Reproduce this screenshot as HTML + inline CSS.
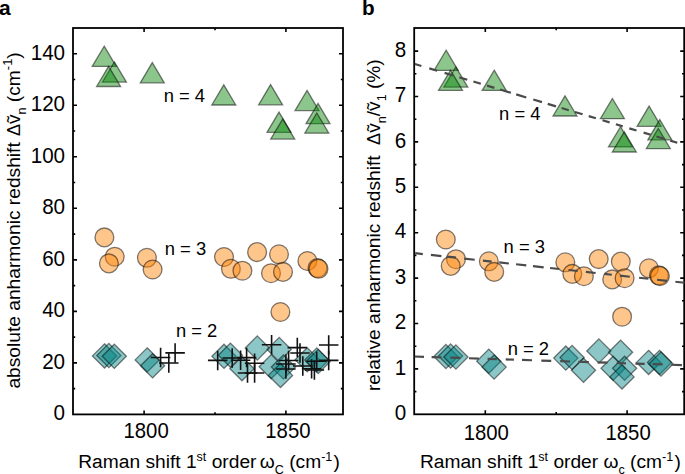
<!DOCTYPE html>
<html><head><meta charset="utf-8"><style>
html,body{margin:0;padding:0;background:#fff;width:685px;height:474px;overflow:hidden}
svg{display:block}
</style></head><body>
<svg width="685" height="474" viewBox="0 0 685 474"><rect width="685" height="474" fill="#fff"/><path d="M144.10 414.40V410.40M144.10 28.00V32.00M285.90 414.40V410.40M285.90 28.00V32.00M215.00 414.40V412.20M215.00 28.00V30.20M73.00 362.88H77.00M343.00 362.88H339.00M73.00 311.36H77.00M343.00 311.36H339.00M73.00 259.84H77.00M343.00 259.84H339.00M73.00 208.32H77.00M343.00 208.32H339.00M73.00 156.80H77.00M343.00 156.80H339.00M73.00 105.28H77.00M343.00 105.28H339.00M73.00 53.76H77.00M343.00 53.76H339.00M73.00 388.64H75.20M343.00 388.64H340.80M73.00 337.12H75.20M343.00 337.12H340.80M73.00 285.60H75.20M343.00 285.60H340.80M73.00 234.08H75.20M343.00 234.08H340.80M73.00 182.56H75.20M343.00 182.56H340.80M73.00 131.04H75.20M343.00 131.04H340.80M73.00 79.52H75.20M343.00 79.52H340.80" stroke="#000" stroke-width="1.6" fill="none"/><rect x="73.00" y="28.00" width="270.00" height="386.40" fill="none" stroke="#000" stroke-width="1.8"/><path d="M104.50 343.80L116.60 355.90L104.50 368.00L92.40 355.90Z" fill="rgba(0,128,128,0.45)" stroke="rgba(0,0,0,0.5)" stroke-width="1.3"/><path d="M108.90 343.40L121.00 355.50L108.90 367.60L96.80 355.50Z" fill="rgba(0,128,128,0.45)" stroke="rgba(0,0,0,0.5)" stroke-width="1.3"/><path d="M114.30 344.20L126.40 356.30L114.30 368.40L102.20 356.30Z" fill="rgba(0,128,128,0.45)" stroke="rgba(0,0,0,0.5)" stroke-width="1.3"/><path d="M147.20 347.80L159.30 359.90L147.20 372.00L135.10 359.90Z" fill="rgba(0,128,128,0.45)" stroke="rgba(0,0,0,0.5)" stroke-width="1.3"/><path d="M152.60 353.70L164.70 365.80L152.60 377.90L140.50 365.80Z" fill="rgba(0,128,128,0.45)" stroke="rgba(0,0,0,0.5)" stroke-width="1.3"/><path d="M224.00 344.20L236.10 356.30L224.00 368.40L211.90 356.30Z" fill="rgba(0,128,128,0.45)" stroke="rgba(0,0,0,0.5)" stroke-width="1.3"/><path d="M230.40 343.10L242.50 355.20L230.40 367.30L218.30 355.20Z" fill="rgba(0,128,128,0.45)" stroke="rgba(0,0,0,0.5)" stroke-width="1.3"/><path d="M242.00 356.60L254.10 368.70L242.00 380.80L229.90 368.70Z" fill="rgba(0,128,128,0.45)" stroke="rgba(0,0,0,0.5)" stroke-width="1.3"/><path d="M257.30 335.90L269.40 348.00L257.30 360.10L245.20 348.00Z" fill="rgba(0,128,128,0.45)" stroke="rgba(0,0,0,0.5)" stroke-width="1.3"/><path d="M279.20 337.40L291.30 349.50L279.20 361.60L267.10 349.50Z" fill="rgba(0,128,128,0.45)" stroke="rgba(0,0,0,0.5)" stroke-width="1.3"/><path d="M271.20 354.60L283.30 366.70L271.20 378.80L259.10 366.70Z" fill="rgba(0,128,128,0.45)" stroke="rgba(0,0,0,0.5)" stroke-width="1.3"/><path d="M283.40 354.90L295.50 367.00L283.40 379.10L271.30 367.00Z" fill="rgba(0,128,128,0.45)" stroke="rgba(0,0,0,0.5)" stroke-width="1.3"/><path d="M280.50 363.30L292.60 375.40L280.50 387.50L268.40 375.40Z" fill="rgba(0,128,128,0.45)" stroke="rgba(0,0,0,0.5)" stroke-width="1.3"/><path d="M307.20 347.70L319.30 359.80L307.20 371.90L295.10 359.80Z" fill="rgba(0,128,128,0.45)" stroke="rgba(0,0,0,0.5)" stroke-width="1.3"/><path d="M316.80 347.90L328.90 360.00L316.80 372.10L304.70 360.00Z" fill="rgba(0,128,128,0.45)" stroke="rgba(0,0,0,0.5)" stroke-width="1.3"/><path d="M318.20 349.40L330.30 361.50L318.20 373.60L306.10 361.50Z" fill="rgba(0,128,128,0.45)" stroke="rgba(0,0,0,0.5)" stroke-width="1.3"/><circle cx="104.40" cy="237.40" r="9.4" fill="rgba(255,128,0,0.45)" stroke="rgba(0,0,0,0.5)" stroke-width="1.3"/><circle cx="114.70" cy="256.70" r="9.4" fill="rgba(255,128,0,0.45)" stroke="rgba(0,0,0,0.5)" stroke-width="1.3"/><circle cx="108.90" cy="263.40" r="9.4" fill="rgba(255,128,0,0.45)" stroke="rgba(0,0,0,0.5)" stroke-width="1.3"/><circle cx="146.90" cy="257.80" r="9.4" fill="rgba(255,128,0,0.45)" stroke="rgba(0,0,0,0.5)" stroke-width="1.3"/><circle cx="152.60" cy="269.50" r="9.4" fill="rgba(255,128,0,0.45)" stroke="rgba(0,0,0,0.5)" stroke-width="1.3"/><circle cx="224.00" cy="257.00" r="9.4" fill="rgba(255,128,0,0.45)" stroke="rgba(0,0,0,0.5)" stroke-width="1.3"/><circle cx="230.90" cy="268.80" r="9.4" fill="rgba(255,128,0,0.45)" stroke="rgba(0,0,0,0.5)" stroke-width="1.3"/><circle cx="242.40" cy="270.70" r="9.4" fill="rgba(255,128,0,0.45)" stroke="rgba(0,0,0,0.5)" stroke-width="1.3"/><circle cx="257.10" cy="252.10" r="9.4" fill="rgba(255,128,0,0.45)" stroke="rgba(0,0,0,0.5)" stroke-width="1.3"/><circle cx="279.00" cy="254.30" r="9.4" fill="rgba(255,128,0,0.45)" stroke="rgba(0,0,0,0.5)" stroke-width="1.3"/><circle cx="271.00" cy="273.20" r="9.4" fill="rgba(255,128,0,0.45)" stroke="rgba(0,0,0,0.5)" stroke-width="1.3"/><circle cx="283.00" cy="271.90" r="9.4" fill="rgba(255,128,0,0.45)" stroke="rgba(0,0,0,0.5)" stroke-width="1.3"/><circle cx="307.40" cy="261.00" r="9.4" fill="rgba(255,128,0,0.45)" stroke="rgba(0,0,0,0.5)" stroke-width="1.3"/><circle cx="317.50" cy="268.00" r="9.4" fill="rgba(255,128,0,0.45)" stroke="rgba(0,0,0,0.5)" stroke-width="1.3"/><circle cx="318.50" cy="268.80" r="9.4" fill="rgba(255,128,0,0.45)" stroke="rgba(0,0,0,0.5)" stroke-width="1.3"/><circle cx="280.40" cy="312.00" r="9.4" fill="rgba(255,128,0,0.45)" stroke="rgba(0,0,0,0.5)" stroke-width="1.3"/><path d="M104.20 46.20L116.20 66.40L92.20 66.40Z" fill="rgba(0,128,0,0.45)" stroke="rgba(0,0,0,0.5)" stroke-width="1.3"/><path d="M114.40 61.90L126.40 82.10L102.40 82.10Z" fill="rgba(0,128,0,0.45)" stroke="rgba(0,0,0,0.5)" stroke-width="1.3"/><path d="M108.60 66.30L120.60 86.50L96.60 86.50Z" fill="rgba(0,128,0,0.45)" stroke="rgba(0,0,0,0.5)" stroke-width="1.3"/><path d="M152.30 62.60L164.30 82.80L140.30 82.80Z" fill="rgba(0,128,0,0.45)" stroke="rgba(0,0,0,0.5)" stroke-width="1.3"/><path d="M223.80 84.80L235.80 105.00L211.80 105.00Z" fill="rgba(0,128,0,0.45)" stroke="rgba(0,0,0,0.5)" stroke-width="1.3"/><path d="M270.60 84.60L282.60 104.80L258.60 104.80Z" fill="rgba(0,128,0,0.45)" stroke="rgba(0,0,0,0.5)" stroke-width="1.3"/><path d="M279.00 112.10L291.00 132.30L267.00 132.30Z" fill="rgba(0,128,0,0.45)" stroke="rgba(0,0,0,0.5)" stroke-width="1.3"/><path d="M282.70 118.90L294.70 139.10L270.70 139.10Z" fill="rgba(0,128,0,0.45)" stroke="rgba(0,0,0,0.5)" stroke-width="1.3"/><path d="M307.00 90.40L319.00 110.60L295.00 110.60Z" fill="rgba(0,128,0,0.45)" stroke="rgba(0,0,0,0.5)" stroke-width="1.3"/><path d="M318.00 103.40L330.00 123.60L306.00 123.60Z" fill="rgba(0,128,0,0.45)" stroke="rgba(0,0,0,0.5)" stroke-width="1.3"/><path d="M316.80 113.00L328.80 133.20L304.80 133.20Z" fill="rgba(0,128,0,0.45)" stroke="rgba(0,0,0,0.5)" stroke-width="1.3"/><path d="M150.85 357.50H170.35M160.60 347.75V367.25" stroke="#111" stroke-width="1.6" fill="none"/><path d="M159.05 363.00H178.55M168.80 353.25V372.75" stroke="#111" stroke-width="1.6" fill="none"/><path d="M165.35 352.90H184.85M175.10 343.15V362.65" stroke="#111" stroke-width="1.6" fill="none"/><path d="M207.95 360.40H227.45M217.70 350.65V370.15" stroke="#111" stroke-width="1.6" fill="none"/><path d="M222.45 358.00H241.95M232.20 348.25V367.75" stroke="#111" stroke-width="1.6" fill="none"/><path d="M230.85 360.30H250.35M240.60 350.55V370.05" stroke="#111" stroke-width="1.6" fill="none"/><path d="M236.85 357.60H256.35M246.60 347.85V367.35" stroke="#111" stroke-width="1.6" fill="none"/><path d="M237.75 373.00H257.25M247.50 363.25V382.75" stroke="#111" stroke-width="1.6" fill="none"/><path d="M244.85 363.30H264.35M254.60 353.55V373.05" stroke="#111" stroke-width="1.6" fill="none"/><path d="M244.85 373.00H264.35M254.60 363.25V382.75" stroke="#111" stroke-width="1.6" fill="none"/><path d="M261.85 344.80H281.35M271.60 335.05V354.55" stroke="#111" stroke-width="1.6" fill="none"/><path d="M287.55 347.60H307.05M297.30 337.85V357.35" stroke="#111" stroke-width="1.6" fill="none"/><path d="M290.25 353.00H309.75M300.00 343.25V362.75" stroke="#111" stroke-width="1.6" fill="none"/><path d="M278.85 360.50H298.35M288.60 350.75V370.25" stroke="#111" stroke-width="1.6" fill="none"/><path d="M276.15 364.00H295.65M285.90 354.25V373.75" stroke="#111" stroke-width="1.6" fill="none"/><path d="M276.15 369.00H295.65M285.90 359.25V378.75" stroke="#111" stroke-width="1.6" fill="none"/><path d="M293.05 366.00H312.55M302.80 356.25V375.75" stroke="#111" stroke-width="1.6" fill="none"/><path d="M301.85 368.70H321.35M311.60 358.95V378.45" stroke="#111" stroke-width="1.6" fill="none"/><path d="M304.65 370.00H324.15M314.40 360.25V379.75" stroke="#111" stroke-width="1.6" fill="none"/><path d="M306.95 361.20H326.45M316.70 351.45V370.95" stroke="#111" stroke-width="1.6" fill="none"/><path d="M318.95 345.00H338.45M328.70 335.25V354.75" stroke="#111" stroke-width="1.6" fill="none"/><path d="M318.95 360.40H338.45M328.70 350.65V370.15" stroke="#111" stroke-width="1.6" fill="none"/><path d="M485.30 414.30V410.30M485.30 28.00V32.00M627.10 414.30V410.30M627.10 28.00V32.00M556.20 414.30V412.10M556.20 28.00V30.20M414.20 368.90H418.20M684.20 368.90H680.20M414.20 323.50H418.20M684.20 323.50H680.20M414.20 278.10H418.20M684.20 278.10H680.20M414.20 232.70H418.20M684.20 232.70H680.20M414.20 187.30H418.20M684.20 187.30H680.20M414.20 141.90H418.20M684.20 141.90H680.20M414.20 96.50H418.20M684.20 96.50H680.20M414.20 51.10H418.20M684.20 51.10H680.20M414.20 391.60H416.40M684.20 391.60H682.00M414.20 346.20H416.40M684.20 346.20H682.00M414.20 300.80H416.40M684.20 300.80H682.00M414.20 255.40H416.40M684.20 255.40H682.00M414.20 210.00H416.40M684.20 210.00H682.00M414.20 164.60H416.40M684.20 164.60H682.00M414.20 119.20H416.40M684.20 119.20H682.00M414.20 73.80H416.40M684.20 73.80H682.00" stroke="#000" stroke-width="1.6" fill="none"/><rect x="414.20" y="28.00" width="270.00" height="386.30" fill="none" stroke="#000" stroke-width="1.8"/><path d="M445.90 344.40L458.00 356.50L445.90 368.60L433.80 356.50Z" fill="rgba(0,128,128,0.45)" stroke="rgba(0,0,0,0.5)" stroke-width="1.3"/><path d="M450.60 343.90L462.70 356.00L450.60 368.10L438.50 356.00Z" fill="rgba(0,128,128,0.45)" stroke="rgba(0,0,0,0.5)" stroke-width="1.3"/><path d="M455.90 344.90L468.00 357.00L455.90 369.10L443.80 357.00Z" fill="rgba(0,128,128,0.45)" stroke="rgba(0,0,0,0.5)" stroke-width="1.3"/><path d="M488.80 349.10L500.90 361.20L488.80 373.30L476.70 361.20Z" fill="rgba(0,128,128,0.45)" stroke="rgba(0,0,0,0.5)" stroke-width="1.3"/><path d="M494.10 355.00L506.20 367.10L494.10 379.20L482.00 367.10Z" fill="rgba(0,128,128,0.45)" stroke="rgba(0,0,0,0.5)" stroke-width="1.3"/><path d="M565.80 346.00L577.90 358.10L565.80 370.20L553.70 358.10Z" fill="rgba(0,128,128,0.45)" stroke="rgba(0,0,0,0.5)" stroke-width="1.3"/><path d="M572.10 345.40L584.20 357.50L572.10 369.60L560.00 357.50Z" fill="rgba(0,128,128,0.45)" stroke="rgba(0,0,0,0.5)" stroke-width="1.3"/><path d="M583.50 358.20L595.60 370.30L583.50 382.40L571.40 370.30Z" fill="rgba(0,128,128,0.45)" stroke="rgba(0,0,0,0.5)" stroke-width="1.3"/><path d="M598.90 338.90L611.00 351.00L598.90 363.10L586.80 351.00Z" fill="rgba(0,128,128,0.45)" stroke="rgba(0,0,0,0.5)" stroke-width="1.3"/><path d="M620.60 340.10L632.70 352.20L620.60 364.30L608.50 352.20Z" fill="rgba(0,128,128,0.45)" stroke="rgba(0,0,0,0.5)" stroke-width="1.3"/><path d="M613.10 356.20L625.20 368.30L613.10 380.40L601.00 368.30Z" fill="rgba(0,128,128,0.45)" stroke="rgba(0,0,0,0.5)" stroke-width="1.3"/><path d="M624.60 356.20L636.70 368.30L624.60 380.40L612.50 368.30Z" fill="rgba(0,128,128,0.45)" stroke="rgba(0,0,0,0.5)" stroke-width="1.3"/><path d="M622.00 364.80L634.10 376.90L622.00 389.00L609.90 376.90Z" fill="rgba(0,128,128,0.45)" stroke="rgba(0,0,0,0.5)" stroke-width="1.3"/><path d="M648.60 350.30L660.70 362.40L648.60 374.50L636.50 362.40Z" fill="rgba(0,128,128,0.45)" stroke="rgba(0,0,0,0.5)" stroke-width="1.3"/><path d="M659.50 350.30L671.60 362.40L659.50 374.50L647.40 362.40Z" fill="rgba(0,128,128,0.45)" stroke="rgba(0,0,0,0.5)" stroke-width="1.3"/><path d="M661.00 351.90L673.10 364.00L661.00 376.10L648.90 364.00Z" fill="rgba(0,128,128,0.45)" stroke="rgba(0,0,0,0.5)" stroke-width="1.3"/><circle cx="445.80" cy="239.50" r="9.4" fill="rgba(255,128,0,0.45)" stroke="rgba(0,0,0,0.5)" stroke-width="1.3"/><circle cx="456.00" cy="259.20" r="9.4" fill="rgba(255,128,0,0.45)" stroke="rgba(0,0,0,0.5)" stroke-width="1.3"/><circle cx="450.70" cy="265.90" r="9.4" fill="rgba(255,128,0,0.45)" stroke="rgba(0,0,0,0.5)" stroke-width="1.3"/><circle cx="488.80" cy="261.30" r="9.4" fill="rgba(255,128,0,0.45)" stroke="rgba(0,0,0,0.5)" stroke-width="1.3"/><circle cx="494.20" cy="271.90" r="9.4" fill="rgba(255,128,0,0.45)" stroke="rgba(0,0,0,0.5)" stroke-width="1.3"/><circle cx="565.30" cy="262.30" r="9.4" fill="rgba(255,128,0,0.45)" stroke="rgba(0,0,0,0.5)" stroke-width="1.3"/><circle cx="572.30" cy="273.90" r="9.4" fill="rgba(255,128,0,0.45)" stroke="rgba(0,0,0,0.5)" stroke-width="1.3"/><circle cx="583.90" cy="276.20" r="9.4" fill="rgba(255,128,0,0.45)" stroke="rgba(0,0,0,0.5)" stroke-width="1.3"/><circle cx="598.70" cy="259.10" r="9.4" fill="rgba(255,128,0,0.45)" stroke="rgba(0,0,0,0.5)" stroke-width="1.3"/><circle cx="620.80" cy="261.60" r="9.4" fill="rgba(255,128,0,0.45)" stroke="rgba(0,0,0,0.5)" stroke-width="1.3"/><circle cx="612.20" cy="279.40" r="9.4" fill="rgba(255,128,0,0.45)" stroke="rgba(0,0,0,0.5)" stroke-width="1.3"/><circle cx="624.60" cy="278.20" r="9.4" fill="rgba(255,128,0,0.45)" stroke="rgba(0,0,0,0.5)" stroke-width="1.3"/><circle cx="648.90" cy="268.30" r="9.4" fill="rgba(255,128,0,0.45)" stroke="rgba(0,0,0,0.5)" stroke-width="1.3"/><circle cx="658.90" cy="275.30" r="9.4" fill="rgba(255,128,0,0.45)" stroke="rgba(0,0,0,0.5)" stroke-width="1.3"/><circle cx="659.90" cy="276.10" r="9.4" fill="rgba(255,128,0,0.45)" stroke="rgba(0,0,0,0.5)" stroke-width="1.3"/><circle cx="622.10" cy="316.70" r="9.4" fill="rgba(255,128,0,0.45)" stroke="rgba(0,0,0,0.5)" stroke-width="1.3"/><path d="M446.10 50.20L458.10 70.40L434.10 70.40Z" fill="rgba(0,128,0,0.45)" stroke="rgba(0,0,0,0.5)" stroke-width="1.3"/><path d="M455.80 66.90L467.80 87.10L443.80 87.10Z" fill="rgba(0,128,0,0.45)" stroke="rgba(0,0,0,0.5)" stroke-width="1.3"/><path d="M450.50 70.20L462.50 90.40L438.50 90.40Z" fill="rgba(0,128,0,0.45)" stroke="rgba(0,0,0,0.5)" stroke-width="1.3"/><path d="M494.20 70.20L506.20 90.40L482.20 90.40Z" fill="rgba(0,128,0,0.45)" stroke="rgba(0,0,0,0.5)" stroke-width="1.3"/><path d="M565.00 95.80L577.00 116.00L553.00 116.00Z" fill="rgba(0,128,0,0.45)" stroke="rgba(0,0,0,0.5)" stroke-width="1.3"/><path d="M612.40 98.50L624.40 118.70L600.40 118.70Z" fill="rgba(0,128,0,0.45)" stroke="rgba(0,0,0,0.5)" stroke-width="1.3"/><path d="M620.50 126.70L632.50 146.90L608.50 146.90Z" fill="rgba(0,128,0,0.45)" stroke="rgba(0,0,0,0.5)" stroke-width="1.3"/><path d="M624.30 131.80L636.30 152.00L612.30 152.00Z" fill="rgba(0,128,0,0.45)" stroke="rgba(0,0,0,0.5)" stroke-width="1.3"/><path d="M649.10 106.10L661.10 126.30L637.10 126.30Z" fill="rgba(0,128,0,0.45)" stroke="rgba(0,0,0,0.5)" stroke-width="1.3"/><path d="M659.80 119.60L671.80 139.80L647.80 139.80Z" fill="rgba(0,128,0,0.45)" stroke="rgba(0,0,0,0.5)" stroke-width="1.3"/><path d="M658.30 128.50L670.30 148.70L646.30 148.70Z" fill="rgba(0,128,0,0.45)" stroke="rgba(0,0,0,0.5)" stroke-width="1.3"/><path d="M414.90 64.01L421.40 65.96M429.30 68.33L437.20 70.70M444.60 72.92L453.00 75.44M459.40 77.36L467.30 79.73M473.40 81.56L480.80 83.78M487.00 85.64L494.40 87.86M500.10 89.57L510.90 92.81M516.20 94.40L526.30 97.43M533.30 99.53L542.00 102.14M547.70 103.85L556.00 106.34M561.60 108.02L568.80 110.18M574.90 112.01L582.60 114.32M588.70 116.15L595.90 118.31M602.50 120.29L609.60 122.42M615.90 124.31L622.70 126.35M629.30 128.33L636.50 130.49M643.60 132.62L650.80 134.78M656.40 136.46L665.00 139.04M670.20 140.60L677.30 142.73" stroke="#4a4a4a" stroke-width="2.2" fill="none"/><path d="M415.20 253.21L422.80 254.04M430.90 254.93L441.40 256.08M446.70 256.66L456.00 257.68M464.20 258.58L474.70 259.73M482.90 260.63L491.70 261.59M499.20 262.42L508.90 263.48M516.10 264.27L526.30 265.39M533.00 266.12L543.70 267.29M550.10 267.99L559.30 269.00M568.50 270.01L577.70 271.02M585.90 271.92L595.60 272.98M604.30 273.93L611.80 274.76M619.90 275.64L629.80 276.73M639.10 277.75L648.40 278.77M657.10 279.72L667.00 280.81M675.40 281.73L684.50 282.72" stroke="#4a4a4a" stroke-width="2.2" fill="none"/><path d="M414.70 356.52L424.00 356.81M431.60 357.06L441.50 357.37M450.30 357.66L460.20 357.97M469.00 358.25L478.90 358.57M487.60 358.85L496.90 359.15M505.70 359.43L513.90 359.69M522.00 359.95L532.00 360.27M541.30 360.57L551.20 360.88M560.20 361.17L570.10 361.49M578.30 361.75L588.80 362.09M597.60 362.37L607.50 362.69M616.70 362.98L626.00 363.28M635.40 363.58L644.70 363.88M652.70 364.13L662.70 364.45M671.30 364.73L681.90 365.07" stroke="#4a4a4a" stroke-width="2.2" fill="none"/><text transform="translate(65.11,420.30) scale(0.961,1)" font-family='"Liberation Sans", sans-serif' font-size="21.5" text-anchor="end" font-weight="normal">0</text><text transform="translate(65.11,368.78) scale(0.961,1)" font-family='"Liberation Sans", sans-serif' font-size="21.5" text-anchor="end" font-weight="normal">20</text><text transform="translate(65.11,317.26) scale(0.961,1)" font-family='"Liberation Sans", sans-serif' font-size="21.5" text-anchor="end" font-weight="normal">40</text><text transform="translate(65.11,265.74) scale(0.961,1)" font-family='"Liberation Sans", sans-serif' font-size="21.5" text-anchor="end" font-weight="normal">60</text><text transform="translate(65.11,214.22) scale(0.961,1)" font-family='"Liberation Sans", sans-serif' font-size="21.5" text-anchor="end" font-weight="normal">80</text><text transform="translate(65.11,162.70) scale(0.961,1)" font-family='"Liberation Sans", sans-serif' font-size="21.5" text-anchor="end" font-weight="normal">100</text><text transform="translate(65.11,111.18) scale(0.961,1)" font-family='"Liberation Sans", sans-serif' font-size="21.5" text-anchor="end" font-weight="normal">120</text><text transform="translate(65.11,59.66) scale(0.961,1)" font-family='"Liberation Sans", sans-serif' font-size="21.5" text-anchor="end" font-weight="normal">140</text><text transform="translate(406.31,420.05) scale(0.961,1)" font-family='"Liberation Sans", sans-serif' font-size="21.5" text-anchor="end" font-weight="normal">0</text><text transform="translate(406.31,374.65) scale(0.961,1)" font-family='"Liberation Sans", sans-serif' font-size="21.5" text-anchor="end" font-weight="normal">1</text><text transform="translate(406.31,329.25) scale(0.961,1)" font-family='"Liberation Sans", sans-serif' font-size="21.5" text-anchor="end" font-weight="normal">2</text><text transform="translate(406.31,283.85) scale(0.961,1)" font-family='"Liberation Sans", sans-serif' font-size="21.5" text-anchor="end" font-weight="normal">3</text><text transform="translate(406.31,238.45) scale(0.961,1)" font-family='"Liberation Sans", sans-serif' font-size="21.5" text-anchor="end" font-weight="normal">4</text><text transform="translate(406.31,193.05) scale(0.961,1)" font-family='"Liberation Sans", sans-serif' font-size="21.5" text-anchor="end" font-weight="normal">5</text><text transform="translate(406.31,147.65) scale(0.961,1)" font-family='"Liberation Sans", sans-serif' font-size="21.5" text-anchor="end" font-weight="normal">6</text><text transform="translate(406.31,102.25) scale(0.961,1)" font-family='"Liberation Sans", sans-serif' font-size="21.5" text-anchor="end" font-weight="normal">7</text><text transform="translate(406.31,56.85) scale(0.961,1)" font-family='"Liberation Sans", sans-serif' font-size="21.5" text-anchor="end" font-weight="normal">8</text><text transform="translate(146.10,438.20) scale(0.945,1)" font-family='"Liberation Sans", sans-serif' font-size="21.5" text-anchor="middle" font-weight="normal">1800</text><text transform="translate(486.30,440.30) scale(0.945,1)" font-family='"Liberation Sans", sans-serif' font-size="21.5" text-anchor="middle" font-weight="normal">1800</text><text transform="translate(287.90,438.20) scale(0.945,1)" font-family='"Liberation Sans", sans-serif' font-size="21.5" text-anchor="middle" font-weight="normal">1850</text><text transform="translate(628.10,440.30) scale(0.945,1)" font-family='"Liberation Sans", sans-serif' font-size="21.5" text-anchor="middle" font-weight="normal">1850</text><text transform="translate(-0.90,14.60) scale(1.0,1)" font-family='"Liberation Sans", sans-serif' font-size="21" text-anchor="start" font-weight="bold">a</text><text transform="translate(362.00,14.70) scale(1.0,1)" font-family='"Liberation Sans", sans-serif' font-size="20.7" text-anchor="start" font-weight="bold">b</text><text transform="translate(163.68,101.80) scale(1.0,1)" font-family='"Liberation Sans", sans-serif' font-size="18.4" text-anchor="start" font-weight="normal">n = 4</text><text transform="translate(164.78,254.90) scale(1.0,1)" font-family='"Liberation Sans", sans-serif' font-size="18.4" text-anchor="start" font-weight="normal">n = 3</text><text transform="translate(175.88,337.00) scale(1.0,1)" font-family='"Liberation Sans", sans-serif' font-size="18.4" text-anchor="start" font-weight="normal">n = 2</text><text transform="translate(499.08,119.50) scale(1.0,1)" font-family='"Liberation Sans", sans-serif' font-size="18.4" text-anchor="start" font-weight="normal">n = 4</text><text transform="translate(503.58,252.50) scale(1.0,1)" font-family='"Liberation Sans", sans-serif' font-size="18.4" text-anchor="start" font-weight="normal">n = 3</text><text transform="translate(507.68,354.80) scale(1.0,1)" font-family='"Liberation Sans", sans-serif' font-size="18.4" text-anchor="start" font-weight="normal">n = 2</text><text x="78.22" y="467.8" font-family='"Liberation Sans", sans-serif' font-size="19.2">Raman shift 1<tspan font-size="12.5" dy="-7">st</tspan><tspan dy="7"> order </tspan><tspan dx="-2">ω</tspan><tspan font-size="12.5" dy="6.3">C</tspan><tspan dy="-6.3"> (cm</tspan><tspan font-size="12.5" dy="-7">-1</tspan><tspan dy="7" dx="1.2">)</tspan></text><text x="419.93" y="467.8" font-family='"Liberation Sans", sans-serif' font-size="19.2">Raman shift 1<tspan font-size="12.5" dy="-7">st</tspan><tspan dy="7"> order </tspan><tspan dx="0">ω</tspan><tspan font-size="12.5" dy="6.3">c</tspan><tspan dy="-6.3"> (cm</tspan><tspan font-size="12.5" dy="-7">-1</tspan><tspan dy="7" dx="1.2">)</tspan></text><text transform="translate(19.90,388.60) rotate(-90)" font-family='"Liberation Sans", sans-serif' font-size="19.2">absolute anharmonic redshift <tspan dx="0.8" font-size="18">Δ</tspan>ṽ<tspan font-size="12.5" dy="5.8">n</tspan><tspan dy="-5.8"> (cm</tspan><tspan font-size="13" dy="-8">-1</tspan><tspan dy="8">)</tspan></text><text transform="translate(380.10,391.10) rotate(-90)" font-family='"Liberation Sans", sans-serif' font-size="19.2">relative anharmonic redshift <tspan dx="5.2" font-size="18">Δ</tspan>ṽ<tspan font-size="12.5" dy="5.8">n</tspan><tspan dy="-5.8">/ṽ</tspan><tspan font-size="12.5" dy="5.8">1</tspan><tspan dy="-5.8"> (%)</tspan></text></svg>
</body></html>
